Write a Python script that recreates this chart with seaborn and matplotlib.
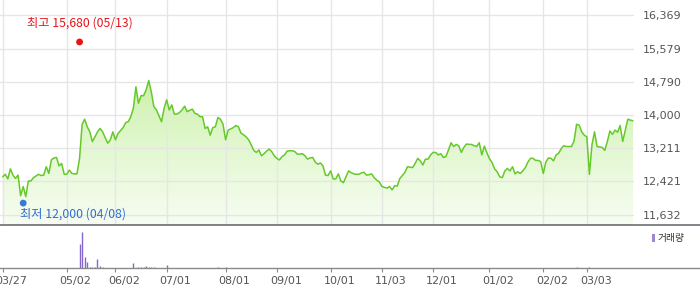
import numpy as np
import matplotlib
matplotlib.use("Agg")
import matplotlib.pyplot as plt
import matplotlib.transforms as mtransforms
from matplotlib.colors import LinearSegmentedColormap
from matplotlib.patches import Rectangle
import seaborn as sns

# ---------------- data ----------------
close = [
    12530, 12590, 12480, 12720, 12570, 12490, 12570, 12080, 12300, 12060,
    12430, 12430, 12510, 12550, 12590, 12560, 12570, 12770, 12610, 12930,
    12980, 12990, 12790, 12850, 12590, 12590, 12690, 12610, 12600, 12600,
    12970, 13780, 13900, 13720, 13600, 13370, 13480, 13600, 13680, 13600,
    13460, 13330, 13410, 13600, 13410, 13560, 13630, 13700, 13820, 13840,
    13960, 14160, 14670, 14280, 14460, 14460, 14600, 14820, 14550, 14200,
    14120, 13980, 13840, 14160, 14360, 14120, 14240, 14020, 14020, 14060,
    14120, 14210, 14080, 14110, 14140, 14040, 14020, 13960, 13960, 13680,
    13720, 13520, 13700, 13720, 13940, 13900, 13780, 13410, 13640, 13670,
    13700, 13750, 13720, 13570, 13530, 13480, 13410, 13290, 13160, 13110,
    13170, 13030, 13080, 13140, 13190, 13130, 13030, 12970, 12930, 13010,
    13050, 13140, 13150, 13150, 13130, 13070, 13070, 13080, 13030, 12950,
    12980, 12990, 12880, 12830, 12860, 12790, 12570, 12560, 12670, 12480,
    12480, 12600, 12430, 12390, 12530, 12670, 12630, 12600, 12590, 12590,
    12620, 12640, 12570, 12580, 12600, 12510, 12450, 12410, 12300, 12280,
    12260, 12300, 12220, 12320, 12310, 12490, 12560, 12640, 12770, 12760,
    12750, 12850, 12970, 12910, 12810, 12950, 12950, 13050, 13110, 13110,
    13050, 13080, 12990, 13010, 13170, 13340, 13250, 13300, 13270, 13110,
    13230, 13310, 13300, 13300, 13270, 13250, 13340, 13050, 13260, 13100,
    12960, 12870, 12720, 12650, 12530, 12510, 12670, 12730, 12670, 12770,
    12600, 12650, 12610, 12670, 12750, 12880, 12970, 12970, 12920, 12920,
    12890, 12610, 12880, 12980, 12970, 12910, 13050, 13090, 13200, 13270,
    13250, 13250, 13250, 13380, 13780, 13760, 13600, 13520, 13480, 12590,
    13290, 13600, 13250, 13240, 13230, 13160, 13370, 13620, 13540, 13640,
    13590, 13750, 13370, 13640, 13900, 13880, 13860,
]
days = list(range(len(close)))

tick_days = [0, 25, 44, 64, 87, 107, 128, 148, 168, 190, 211, 228]
tick_labels = ["03/27", "05/02", "06/02", "07/01", "08/01", "09/01",
               "10/01", "11/03", "12/01", "01/02", "02/02", "03/03"]
price_ticks = [11632, 12421, 13211, 14000, 14790, 15579, 16369]

vol_days = [30, 31, 32, 33, 34, 35, 36, 37, 38, 39, 51, 53, 54, 55, 56,
            57, 58, 59, 64, 84, 87, 224, 229]
vol_values = [2370, 3600, 1070, 570, 100, 100, 100, 900, 200, 100, 470, 100,
              100, 100, 200, 100, 70, 70, 300, 70, 70, 70, 70]

high_day, high_price, high_label = 30, 15680, "최고 15,680 (05/13)"
low_day, low_price, low_label = 8, 12000, "최저 12,000 (04/08)"
legend_label = "거래량"

# ---------------- style ----------------
sns.set_theme(style="white")
plt.rcParams['font.family'] = ['DejaVu Sans', 'Noto Sans CJK KR']
KR = ['Noto Sans CJK KR', 'DejaVu Sans']

W, H = 700, 289
fig = plt.figure(figsize=(7.0, 2.89), dpi=100)
fig.patch.set_facecolor('white')

px = 2.562                      # pixels per trading day
xmin = -2.7 / px
xmax_price = xmin + 634 / px
xmax_vol = xmin + 700 / px
ymin, ymax = 11384, 16735

def fx(p):
    return p / W

def fy(p):
    return 1 - p / H

# price axes: pixels x 0..634, y 0..225
ax = fig.add_axes([0, fy(225), fx(634), 225 / H])
ax.set_xlim(xmin, xmax_price)
ax.set_ylim(ymin, ymax)
for s in ax.spines.values():
    s.set_visible(False)
ax.set_facecolor('white')

# gridlines
ax.set_xticks(tick_days)
ax.set_yticks(price_ticks)
ax.grid(True, color='#e6e6e6', linewidth=1.0)
ax.set_axisbelow(False)
ax.tick_params(axis='x', length=0, labelbottom=False)
ax.yaxis.tick_right()
ax.tick_params(axis='y', length=0, pad=6, labelsize=8, labelcolor='#555555')
ax.set_yticklabels([f"{v:,}" for v in price_ticks])

# gradient fill under the line
grad = np.linspace(0, 1, 256).reshape(-1, 1)
cmap = LinearSegmentedColormap.from_list('g', ['#f7fdf2', '#e4f8d3', '#ccf1aa'])
im = ax.imshow(grad, extent=[xmin, xmax_price, ymin, max(close)], origin='lower',
               aspect='auto', cmap=cmap, zorder=1, interpolation='bilinear')
poly = ax.fill_between(days, close, ymin, color='none', linewidth=0)
im.set_clip_path(poly.get_paths()[0], transform=ax.transData)

sns.lineplot(x=days, y=close, ax=ax, color='#66c92a', linewidth=1.1, zorder=3)

# high / low markers with labels
off_hi = mtransforms.ScaledTranslation(0, 2.4 / 100, fig.dpi_scale_trans)
off_lo = mtransforms.ScaledTranslation(0, -4 / 100, fig.dpi_scale_trans)
sns.scatterplot(x=[high_day], y=[high_price], ax=ax, color='#ee1111', s=24,
                edgecolor='none', zorder=4, transform=ax.transData + off_hi)
sns.scatterplot(x=[low_day], y=[low_price], ax=ax, color='#3a78d4', s=24,
                edgecolor='none', zorder=4, transform=ax.transData + off_lo)
ax.annotate(high_label, (high_day, high_price), xytext=(0, 15.5),
            textcoords='offset points', ha='center', va='center',
            fontsize=8.8, color='#e8141b', family=KR)
ax.annotate(low_label, (low_day, low_price), xytext=(-2.3, -11),
            textcoords='offset points', ha='left', va='center',
            fontsize=8.8, color='#2f6fcf', family=KR)

# volume axes: pixels x 0..700, y 225..268
vax = fig.add_axes([0, fy(268), 1.0, 43 / H])
vax.set_xlim(xmin, xmax_vol)
vax.set_ylim(0, 4300)
vax.set_facecolor('white')
vax.vlines(vol_days, 0, vol_values, color='#8467c8', linewidth=1.0)
for k in ['left', 'right']:
    vax.spines[k].set_visible(False)
vax.spines['top'].set_color('#6b6e74')
vax.spines['top'].set_linewidth(1.2)
vax.spines['bottom'].set_color('#8a8a8a')
vax.spines['bottom'].set_linewidth(1.0)
vax.set_yticks([])
vax.set_xticks(tick_days)
vax.tick_params(axis='x', direction='out', length=3, width=0.8, color='#8a8a8a',
                bottom=True, labelbottom=False)
vax.grid(False)

# x labels (left edge ~7px before tick)
lab_tr = mtransforms.blended_transform_factory(vax.transData, fig.transFigure)
for d, t in zip(tick_days, tick_labels):
    vax.text(d, fy(281), t, transform=lab_tr + mtransforms.ScaledTranslation(-7 / 100, 0, fig.dpi_scale_trans),
             ha='left', va='center', fontsize=8, color='#555555', clip_on=False)

# legend
fig.add_artist(Rectangle((fx(652), fy(242)), fx(3), 8 / H, transform=fig.transFigure,
                         facecolor='#9c84d6', edgecolor='none'))
fig.text(fx(657.5), fy(238), legend_label, ha='left', va='center', fontsize=7,
         color='#333333', family=KR)

fig.savefig('out.png', dpi=100, facecolor='white')
